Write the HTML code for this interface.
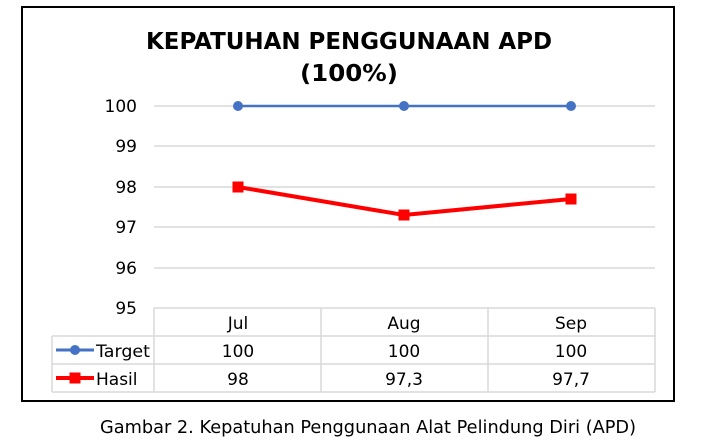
<!DOCTYPE html>
<html><head><meta charset="utf-8"><style>
html,body{margin:0;padding:0;background:#fff;width:705px;height:447px;overflow:hidden}
text{font-family:"DejaVu Sans","Liberation Sans",sans-serif;fill:#000}
</style></head><body>
<svg width="705" height="447" viewBox="0 0 705 447" xmlns="http://www.w3.org/2000/svg">
<rect x="22" y="7" width="652" height="394" fill="#fff" stroke="#000" stroke-width="2"/>
<text x="349" y="49" font-size="23" font-weight="bold" text-anchor="middle" textLength="406" lengthAdjust="spacingAndGlyphs">KEPATUHAN PENGGUNAAN APD</text>
<text x="349" y="81" font-size="23" font-weight="bold" text-anchor="middle" textLength="98" lengthAdjust="spacingAndGlyphs">(100%)</text>
<g stroke="#d9d9d9" stroke-width="1.5">
<line x1="154" y1="106" x2="655" y2="106"/>
<line x1="154" y1="146" x2="655" y2="146"/>
<line x1="154" y1="187" x2="655" y2="187"/>
<line x1="154" y1="227" x2="655" y2="227"/>
<line x1="154" y1="268" x2="655" y2="268"/>
</g>
<g font-size="17" text-anchor="end">
<text x="137" y="112">100</text>
<text x="137" y="152">99</text>
<text x="137" y="193">98</text>
<text x="137" y="233">97</text>
<text x="137" y="274">96</text>
<text x="137" y="314">95</text>
</g>
<g stroke="#d9d9d9" stroke-width="1.5" fill="none">
<line x1="154" y1="308" x2="655" y2="308"/>
<line x1="52" y1="336" x2="655" y2="336"/>
<line x1="52" y1="364" x2="655" y2="364"/>
<line x1="52" y1="392" x2="655" y2="392"/>
<line x1="52" y1="336" x2="52" y2="392"/>
<line x1="154" y1="308" x2="154" y2="392"/>
<line x1="321" y1="308" x2="321" y2="392"/>
<line x1="488" y1="308" x2="488" y2="392"/>
<line x1="655" y1="308" x2="655" y2="392"/>
</g>
<polyline points="238,106 404,106 571,106" fill="none" stroke="#4472c4" stroke-width="2.5"/>
<g fill="#4472c4"><circle cx="238" cy="106" r="5"/><circle cx="404" cy="106" r="5"/><circle cx="571" cy="106" r="5"/></g>
<polyline points="238,187 404,215 571,199" fill="none" stroke="#ff0000" stroke-width="4"/>
<g fill="#ff0000"><rect x="232.5" y="181.5" width="11" height="11"/><rect x="398.5" y="209.5" width="11" height="11"/><rect x="565.5" y="193.5" width="11" height="11"/></g>
<g font-size="17" text-anchor="middle">
<text x="238" y="329">Jul</text><text x="404" y="329">Aug</text><text x="571" y="329">Sep</text>
<text x="238" y="357">100</text><text x="404" y="357">100</text><text x="571" y="357">100</text>
<text x="238" y="385">98</text><text x="404" y="385">97,3</text><text x="571" y="385">97,7</text>
</g>
<line x1="56" y1="350" x2="94" y2="350" stroke="#4472c4" stroke-width="3"/>
<circle cx="75" cy="350" r="5" fill="#4472c4"/>
<line x1="56" y1="378" x2="94" y2="378" stroke="#ff0000" stroke-width="4"/>
<rect x="69.5" y="372.5" width="11" height="11" fill="#ff0000"/>
<g font-size="17"><text x="96" y="357" textLength="54" lengthAdjust="spacingAndGlyphs">Target</text><text x="96" y="385">Hasil</text></g>
<text x="368" y="433" font-size="18" text-anchor="middle" textLength="536" lengthAdjust="spacingAndGlyphs">Gambar 2. Kepatuhan Penggunaan Alat Pelindung Diri (APD)</text>
</svg>
</body></html>
